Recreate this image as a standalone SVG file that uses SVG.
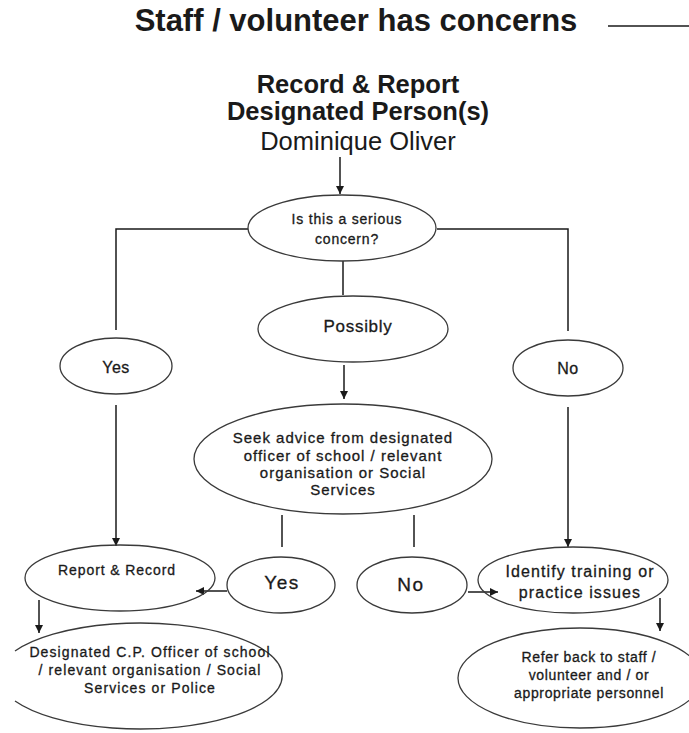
<svg xmlns="http://www.w3.org/2000/svg" width="689" height="733" viewBox="0 0 689 733">
<style>
text{font-family:"Liberation Sans",Arial,sans-serif;fill:#1a1a1a;text-anchor:middle}
.title{font-size:31px;font-weight:bold}
.head{font-size:25.5px;font-weight:bold}
.name{font-size:25.5px}
.s,.m,.l,.yn,.yn2,.id{stroke:#1a1a1a;stroke-width:0.3px}
.s{font-size:14px;letter-spacing:0.8px}
.m{font-size:15px;letter-spacing:1px}
.l{font-size:17px;letter-spacing:0.7px}
.yn{font-size:16px;letter-spacing:0.5px}
.yn2{font-size:19px;letter-spacing:1.5px}
.id{font-size:16px;letter-spacing:1.1px}
.node{fill:none;stroke:#3a3a3a;stroke-width:1.3}
.c{fill:none;stroke:#1a1a1a;stroke-width:1.5}
</style>
<defs>
<marker id="ah" markerUnits="userSpaceOnUse" markerWidth="9" markerHeight="9" refX="8" refY="4.5" orient="auto">
<path d="M0,0.5 L8,4.5 L0,8.5 z" fill="#1a1a1a"/>
</marker>
</defs>
<rect width="689" height="733" fill="#ffffff"/>

<g id="title">
<text class="title" x="356" y="31">Staff / volunteer has concerns</text>
</g>

<g id="header">
<text class="head" x="358" y="93">Record &amp; Report</text>
<text class="head" x="358" y="120">Designated Person(s)</text>
<text class="name" x="358" y="150">Dominique Oliver</text>
</g>

<g id="connectors">
<line class="c" x1="608" y1="26" x2="689" y2="26"/>
<line class="c" x1="340" y1="157" x2="340" y2="194" marker-end="url(#ah)"/>
<polyline class="c" points="248,229 116,229 116,330"/>
<polyline class="c" points="437,229 568,229 568,331"/>
<line class="c" x1="343" y1="261" x2="343" y2="295"/>
<line class="c" x1="344" y1="365" x2="344" y2="399" marker-end="url(#ah)"/>
<line class="c" x1="116" y1="405" x2="116" y2="546" marker-end="url(#ah)"/>
<line class="c" x1="568" y1="407" x2="568" y2="547" marker-end="url(#ah)"/>
<line class="c" x1="282" y1="515" x2="282" y2="547"/>
<line class="c" x1="414" y1="515" x2="414" y2="547"/>
<line class="c" x1="227" y1="591" x2="196" y2="591" marker-end="url(#ah)"/>
<line class="c" x1="468" y1="592" x2="498" y2="592" marker-end="url(#ah)"/>
<line class="c" x1="39" y1="600" x2="39" y2="633" marker-end="url(#ah)"/>
<line class="c" x1="660" y1="598" x2="660" y2="631" marker-end="url(#ah)"/>
</g>

<g id="serious">
<ellipse class="node" cx="342" cy="228" rx="94" ry="33"/>
<text class="s" x="347" y="224">Is this a serious</text>
<text class="s" x="347" y="244">concern?</text>
</g>

<g id="possibly">
<ellipse class="node" cx="353" cy="329" rx="95" ry="33"/>
<text class="l" x="358" y="332">Possibly</text>
</g>

<g id="yes1">
<ellipse class="node" cx="116" cy="366" rx="56" ry="28"/>
<text class="yn" x="116" y="373">Yes</text>
</g>

<g id="no1">
<ellipse class="node" cx="568" cy="368" rx="55" ry="28"/>
<text class="yn" x="568" y="374">No</text>
</g>

<g id="seek">
<ellipse class="node" cx="343" cy="459" rx="149" ry="55"/>
<text class="m" x="343" y="443">Seek advice from designated</text>
<text class="m" x="343" y="461">officer of school / relevant</text>
<text class="m" x="343" y="478">organisation or Social</text>
<text class="m" x="343" y="495">Services</text>
</g>

<g id="reportrecord">
<ellipse class="node" cx="120" cy="578" rx="95" ry="33"/>
<text class="s" x="117" y="575" style="letter-spacing:0.9px">Report &amp; Record</text>
</g>

<g id="yes2">
<ellipse class="node" cx="281" cy="585" rx="54" ry="28"/>
<text class="yn2" x="282" y="589">Yes</text>
</g>

<g id="no2">
<ellipse class="node" cx="412" cy="585" rx="55" ry="28"/>
<text class="yn2" x="411" y="591">No</text>
</g>

<g id="identify">
<ellipse class="node" cx="573" cy="580" rx="95" ry="33"/>
<text class="id" x="580" y="577">Identify training or</text>
<text class="id" x="580" y="598">practice issues</text>
</g>

<g id="designated">
<path class="node" d="M15,651 A142,53 0 1 1 15,701"/>
<text class="s" x="150" y="657" style="letter-spacing:1.1px">Designated C.P. Officer of school</text>
<text class="s" x="150" y="675" style="letter-spacing:1.1px">/ relevant organisation / Social</text>
<text class="s" x="150" y="693" style="letter-spacing:1.1px">Services or Police</text>
</g>

<g id="refer">
<ellipse class="node" cx="580" cy="678" rx="122" ry="50"/>
<text class="s" x="589" y="662" style="letter-spacing:0.65px">Refer back to staff /</text>
<text class="s" x="589" y="680" style="letter-spacing:0.65px">volunteer and / or</text>
<text class="s" x="589" y="698" style="letter-spacing:0.65px">appropriate personnel</text>
</g>
</svg>
